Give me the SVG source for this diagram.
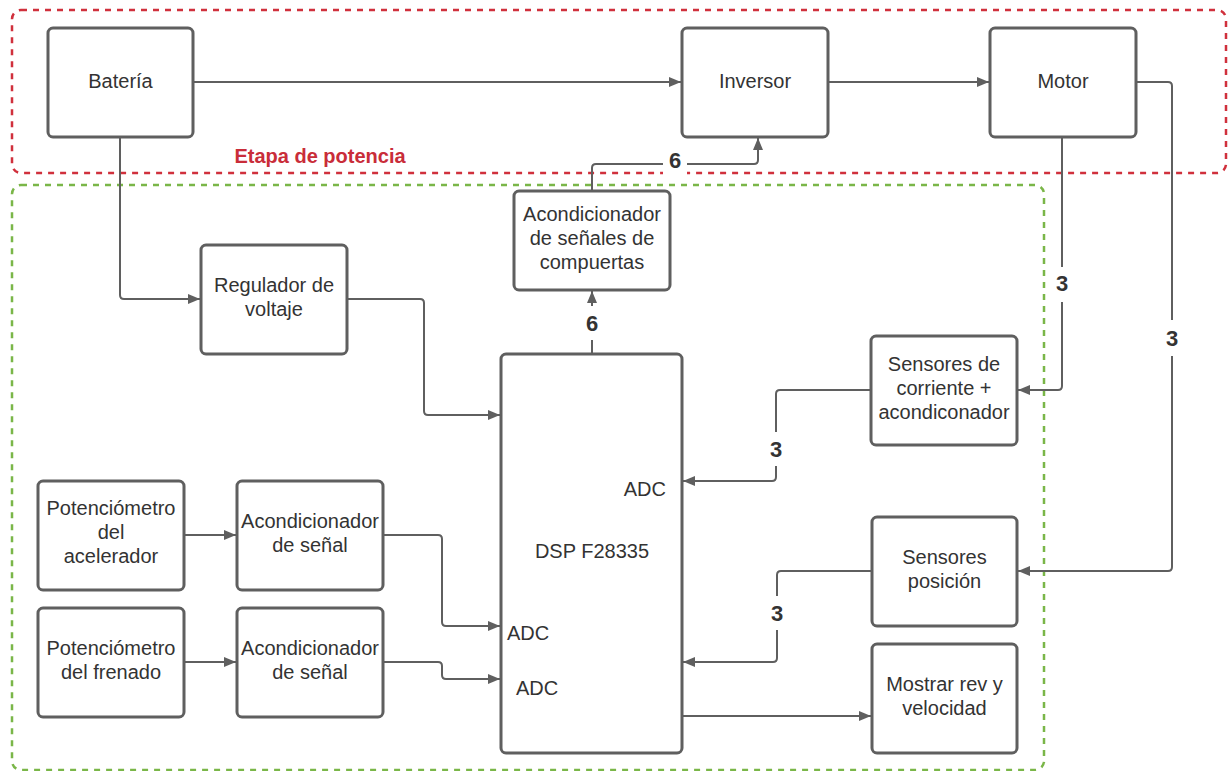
<svg xmlns="http://www.w3.org/2000/svg" width="1231" height="771" viewBox="0 0 1231 771">
<style>
.box{fill:#fff;stroke:#5f5f5f;stroke-width:3}
.t{font-family:"Liberation Sans",Arial,sans-serif;font-size:20px;fill:#333;text-anchor:middle}
.c{fill:none;stroke:#5f5f5f;stroke-width:2}
.lbl{font-family:"Liberation Sans",Arial,sans-serif;font-size:22px;font-weight:bold;fill:#333;text-anchor:middle}
.bg{fill:#fff}
</style>
<defs>
<marker id="ah" viewBox="0 0 12 10" refX="12" refY="5" markerWidth="12" markerHeight="10" markerUnits="userSpaceOnUse" orient="auto">
<path d="M0,0 L12,5 L0,10 Z" fill="#5f5f5f"/>
</marker>
</defs>
<g id="containers">
<rect x="12" y="10" width="1214" height="163" rx="9" fill="none" stroke="#d0303c" stroke-width="2.5" stroke-dasharray="6 6"/>
<rect x="12" y="185" width="1032" height="585" rx="9" fill="none" stroke="#7ab648" stroke-width="2.5" stroke-dasharray="6 6"/>
<text x="320" y="163" style="font-family:'Liberation Sans',Arial,sans-serif;font-size:20px;font-weight:bold;fill:#c92d39;text-anchor:middle">Etapa de potencia</text>
</g>
<g id="connectors">
<path class="c" d="M193,82 H681" marker-end="url(#ah)"/>
<path class="c" d="M828,82 H989" marker-end="url(#ah)"/>
<path class="c" d="M1136,82 H1168 Q1172,82 1172,86 V567 Q1172,571 1168,571 H1018" marker-end="url(#ah)"/>
<path class="c" d="M1062,137 V386 Q1062,390 1058,390 H1018" marker-end="url(#ah)"/>
<path class="c" d="M120,137 V295 Q120,299 124,299 H200" marker-end="url(#ah)"/>
<path class="c" d="M347,299 H420 Q424,299 424,303 V411 Q424,415 428,415 H500" marker-end="url(#ah)"/>
<path class="c" d="M592,354 V291" marker-end="url(#ah)"/>
<path class="c" d="M592,191 V168 Q592,164 596,164 H754 Q758,164 758,160 V138" marker-end="url(#ah)"/>
<path class="c" d="M871,390 H780 Q776,390 776,394 V477 Q776,481 772,481 H683" marker-end="url(#ah)"/>
<path class="c" d="M872,571 H781 Q777,571 777,575 V658 Q777,662 773,662 H683" marker-end="url(#ah)"/>
<path class="c" d="M682,716 H871" marker-end="url(#ah)"/>
<path class="c" d="M184,535 H236" marker-end="url(#ah)"/>
<path class="c" d="M383,535 H438 Q442,535 442,539 V622 Q442,626 446,626 H500" marker-end="url(#ah)"/>
<path class="c" d="M184,662 H236" marker-end="url(#ah)"/>
<path class="c" d="M383,662 H438 Q442,662 442,666 V675 Q442,679 446,679 H500" marker-end="url(#ah)"/>
<rect class="bg" x="663" y="150" width="24" height="26"/>
<text class="lbl" x="675" y="168">6</text>
<rect class="bg" x="582" y="306" width="20" height="34"/>
<text class="lbl" x="592" y="331">6</text>
<rect class="bg" x="1052" y="267" width="20" height="35"/>
<text class="lbl" x="1062" y="291">3</text>
<rect class="bg" x="1162" y="320" width="20" height="36"/>
<text class="lbl" x="1172" y="346">3</text>
<rect class="bg" x="766" y="432" width="20" height="34"/>
<text class="lbl" x="776" y="457">3</text>
<rect class="bg" x="767" y="596" width="20" height="34"/>
<text class="lbl" x="777" y="621">3</text>
</g>
<g id="bateria"><rect class="box" x="48" y="28" width="145" height="109" rx="5"/><text class="t" x="120.5" y="88">Batería</text></g>
<g id="inversor"><rect class="box" x="682" y="28" width="146" height="109" rx="5"/><text class="t" x="755" y="88">Inversor</text></g>
<g id="motor"><rect class="box" x="990" y="28" width="146" height="109" rx="5"/><text class="t" x="1063" y="88">Motor</text></g>
<g id="acond-compuertas"><rect class="box" x="514" y="191" width="156" height="99" rx="5"/><text class="t" x="592" y="221">Acondicionador</text><text class="t" x="592" y="245">de señales de</text><text class="t" x="592" y="269">compuertas</text></g>
<g id="regulador"><rect class="box" x="201" y="245" width="146" height="109" rx="5"/><text class="t" x="274" y="292">Regulador de</text><text class="t" x="274" y="316">voltaje</text></g>
<g id="dsp"><rect class="box" x="501" y="354" width="181" height="399" rx="5"/><text class="t" x="592" y="558">DSP F28335</text><text class="t" x="666" y="496" text-anchor="end" style="text-anchor:end">ADC</text><text class="t" x="507" y="640" style="text-anchor:start">ADC</text><text class="t" x="516" y="695" style="text-anchor:start">ADC</text></g>
<g id="sensores-corriente"><rect class="box" x="871" y="336" width="146" height="109" rx="5"/><text class="t" x="944" y="371">Sensores de</text><text class="t" x="944" y="395">corriente +</text><text class="t" x="944" y="419">acondiconador</text></g>
<g id="sensores-posicion"><rect class="box" x="872" y="517" width="145" height="109" rx="5"/><text class="t" x="944.5" y="564">Sensores</text><text class="t" x="944.5" y="588">posición</text></g>
<g id="mostrar"><rect class="box" x="872" y="644" width="145" height="109" rx="5"/><text class="t" x="944.5" y="691">Mostrar rev y</text><text class="t" x="944.5" y="715">velocidad</text></g>
<g id="pot-acelerador"><rect class="box" x="38" y="481" width="146" height="109" rx="5"/><text class="t" x="111" y="515">Potenciómetro</text><text class="t" x="111" y="539">del</text><text class="t" x="111" y="563">acelerador</text></g>
<g id="acond-senal-1"><rect class="box" x="237" y="481" width="146" height="109" rx="5"/><text class="t" x="310" y="528">Acondicionador</text><text class="t" x="310" y="552">de señal</text></g>
<g id="pot-frenado"><rect class="box" x="38" y="608" width="146" height="109" rx="5"/><text class="t" x="111" y="655">Potenciómetro</text><text class="t" x="111" y="679">del frenado</text></g>
<g id="acond-senal-2"><rect class="box" x="237" y="608" width="146" height="109" rx="5"/><text class="t" x="310" y="655">Acondicionador</text><text class="t" x="310" y="679">de señal</text></g>
</svg>
